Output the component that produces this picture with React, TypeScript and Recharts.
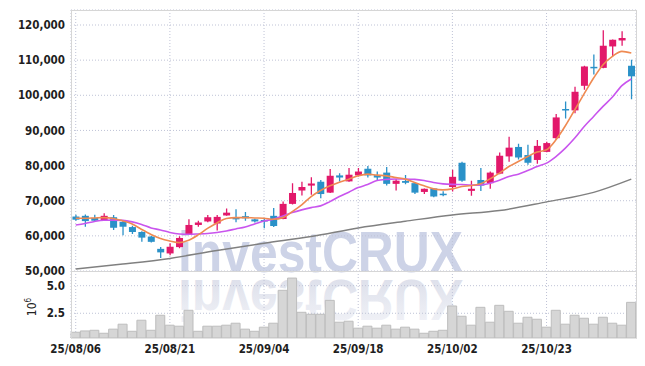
import React from 'react'
import { ComposedChart, Bar, Line, XAxis, YAxis, CartesianGrid } from 'recharts'

const FONT = "'DejaVu Sans Condensed', 'DejaVu Sans', sans-serif"
const UP = '#e2186a'
const DOWN = '#2a91c8'
const GRID = '#bfc3d6'

const dates = [
  '25/08/06', '25/08/07', '25/08/08', '25/08/11', '25/08/12', '25/08/13', '25/08/14', '25/08/18', '25/08/19', '25/08/20',
  '25/08/21', '25/08/22', '25/08/25', '25/08/26', '25/08/27', '25/08/28', '25/08/29', '25/09/01', '25/09/02', '25/09/03',
  '25/09/04', '25/09/05', '25/09/08', '25/09/09', '25/09/10', '25/09/11', '25/09/12', '25/09/15', '25/09/16', '25/09/17',
  '25/09/18', '25/09/19', '25/09/22', '25/09/23', '25/09/24', '25/09/25', '25/09/26', '25/09/29', '25/09/30', '25/10/01',
  '25/10/02', '25/10/10', '25/10/13', '25/10/14', '25/10/15', '25/10/16', '25/10/17', '25/10/20', '25/10/21', '25/10/22',
  '25/10/23', '25/10/24', '25/10/27', '25/10/28', '25/10/29', '25/10/30', '25/10/31', '25/11/03', '25/11/04', '25/11/05',
]
const dateTicks = ['25/08/06', '25/08/21', '25/09/04', '25/09/18', '25/10/02', '25/10/23']

const opens = [
  65500, 65700, 65100, 64500, 65300, 64000, 62500, 61100, 59800, 56300,
  55000, 56800, 60500, 63100, 64100, 63500, 65800, 65200, 65600, 64700,
  64500, 65700, 64800, 69100, 72900, 74300, 75400, 72300, 77200, 75500,
  77200, 79100, 77300, 78000, 74800, 75600, 75000, 72500, 73500, 72000,
  73900, 80800, 72800, 75900, 75000, 77700, 82600, 85300, 83000, 81600,
  83900, 87800, 96100, 95700, 102700, 108100, 107800, 113900, 115600, 108400,
]
const closes = [
  64600, 64200, 64300, 65700, 62300, 62600, 61100, 59500, 58300, 55300,
  56900, 59400, 63100, 63800, 65300, 65400, 66600, 64700, 65000, 64100,
  64200, 62800, 69100, 72200, 73900, 74900, 71900, 77100, 76600, 77400,
  78300, 77200, 76600, 74800, 75700, 75100, 72300, 73400, 71200, 71700,
  76800, 75700, 73400, 74300, 78000, 82800, 85100, 82300, 80800, 85600,
  86400, 93700, 95700, 101000, 108200, 107700, 114100, 115800, 116300, 105400,
]
const highs = [
  66000, 66100, 66000, 66400, 65900, 64200, 62900, 61300, 60000, 56800,
  57900, 59900, 64700, 64300, 65900, 65900, 67800, 67600, 66800, 64900,
  64800, 67900, 69800, 75000, 75400, 76700, 75900, 79000, 77800, 79300,
  79300, 79900, 78300, 79600, 76200, 77300, 75300, 73500, 73500, 72700,
  78800, 81100, 75700, 79300, 78300, 83700, 88200, 86200, 85900, 87300,
  86800, 94700, 98200, 102400, 108400, 111600, 118500, 115900, 118200, 110100,
]
const lows = [
  64300, 62600, 64000, 64300, 61700, 60200, 60500, 58300, 58100, 53700,
  54500, 56500, 60300, 62600, 63900, 61500, 65700, 63900, 64300, 63800,
  62200, 62500, 64700, 68900, 71500, 71700, 70700, 72200, 75500, 75400,
  76900, 76600, 75900, 74300, 72900, 74700, 71900, 71900, 71000, 71300,
  72600, 75400, 71400, 72800, 73400, 77500, 81100, 81700, 80200, 80500,
  83800, 87300, 93400, 94900, 101600, 105900, 107700, 111100, 114100, 98900,
]
// volume in millions of shares
const volumes = [
  0.78, 0.9, 0.96, 0.69, 1.06, 1.51, 0.87, 1.87, 0.96, 2.32,
  1.42, 1.33, 2.77, 0.87, 1.33, 1.33, 1.42, 1.6, 1.06, 0.87,
  1.24, 1.6, 4.58, 5.69, 2.59, 2.41, 2.41, 3.67, 1.69, 1.78,
  1.15, 1.33, 1.15, 1.42, 1.06, 1.24, 1.06, 0.69, 0.87, 0.96,
  3.16, 2.23, 1.42, 3.04, 1.69, 3.22, 2.68, 1.6, 2.14, 1.96,
  1.24, 2.77, 1.51, 2.32, 2.05, 1.51, 2.14, 1.6, 1.42, 3.49,
]
const ma5 = [
  65020, 65020, 65100, 65190, 64960, 64250, 63400, 61830, 60400, 59260,
  58550, 58070, 58750, 60260, 62110, 63680, 64960, 65190, 65190, 65100,
  65020, 64740, 65190, 66900, 68810, 71180, 72890, 74230, 75280, 76140,
  77080, 77560, 77280, 77080, 76590, 76140, 75170, 74230, 73370, 73090,
  73370, 74030, 74310, 74800, 76220, 77850, 79730, 81150, 82580, 83830,
  84490, 87340, 91330, 95890, 100450, 104920, 108710, 111080, 112500, 112050,
]
const ma20 = [
  63110, 63540, 64110, 64450, 64480, 64400, 63970, 63250, 62260, 61690,
  60970, 60550, 60460, 60550, 60690, 60970, 61400, 61970, 62540, 63400,
  64250, 64740, 65680, 66620, 67390, 68040, 68530, 69750, 71180, 72430,
  73740, 74600, 75740, 76080, 76190, 76170, 76080, 75740, 75170, 74800,
  74650, 74600, 74450, 74510, 75000, 75850, 76880, 77560, 78590, 79730,
  80700, 82580, 84970, 87820, 91130, 93980, 96830, 99510, 102730, 104640,
]
const ma120 = [
  50570, null, null, null, null, 51970, null, null, null, null,
  53590, null, null, null, null, 55840, null, null, null, null,
  57900, null, null, null, null, 59800, null, null, null, null,
  62260, null, null, null, null, 64170, null, null, null, null,
  65960, null, null, null, null, 67200, null, null, null, null,
  69670, null, null, null, null, 72370, null, null, null, 76140,
]
const priceTicks = [50000, 60000, 70000, 80000, 90000, 100000, 110000, 120000]
const volumeTicks = [2.5, 5]

const rows = dates.map((date, i) => ({
  date,
  open: opens[i],
  close: closes[i],
  high: highs[i],
  low: lows[i],
  range: [lows[i], highs[i]],
  ma5: ma5[i],
  ma20: ma20[i],
  ma120: ma120[i],
  volume: volumes[i],
}))

function Candle(props: any) {
  const { x, y, width, height, payload } = props
  if (!payload || height == null) return null
  const { open, close, high, low } = payload
  const color = close >= open ? UP : DOWN
  const k = height / (high - low)
  const cx = x + width / 2
  const top = y + (high - Math.max(open, close)) * k
  const h = Math.max(1.5, Math.abs(open - close) * k)
  return (
    <g>
      <line x1={cx} x2={cx} y1={y} y2={y + height} stroke={color} strokeWidth={1.3} />
      <rect x={cx - 3.5} y={top} width={7} height={h} fill={color} />
    </g>
  )
}

const tickStyle = { fill: '#1e1e1e', fontSize: 11.5, fontWeight: 'bold', fontFamily: FONT }

export default function App() {
  return (
    <div style={{ position: 'relative', width: 637, height: 350, background: '#fff' }}>
      <svg width={637} height={350} style={{ position: 'absolute', left: 0, top: 0 }}>
        <defs>
          <linearGradient id="wmFade" x1="0" y1="0" x2="0" y2="1">
            <stop offset="0%" stopColor="#f4f5f9" />
            <stop offset="100%" stopColor="#d9dce8" />
          </linearGradient>
        </defs>
        <text x={170} y={264} fontSize={57} fontWeight="bold" fontFamily="'Liberation Sans', Arial, sans-serif"
          fill="#cdd3e7" textLength={285} lengthAdjust="spacingAndGlyphs">investCRUX</text>
        <text x={170} y={264} fontSize={57} fontWeight="bold" fontFamily="'Liberation Sans', Arial, sans-serif"
          fill="url(#wmFade)" textLength={285} lengthAdjust="spacingAndGlyphs"
          transform="translate(0 536) scale(1 -1)">investCRUX</text>
        <text transform="rotate(-90 28 299)" x={28} y={299} textAnchor="middle" fontSize={12}
          fontFamily={FONT} fill="#222">10<tspan dy={-5} fontSize={8}>6</tspan></text>
      </svg>

      <div style={{ position: 'absolute', left: 0, top: 0 }}>
        <ComposedChart width={630} height={272} data={rows} margin={{ top: 2, right: 2, bottom: 9, left: 0 }}>
          <CartesianGrid stroke={GRID} strokeDasharray="1 2" />
          <XAxis dataKey="date" hide ticks={dateTicks} />
          <YAxis
            width={63}
            domain={[50000, 124270]}
            allowDataOverflow
            ticks={priceTicks}
            interval={0}
            tickFormatter={(v: number) => v.toLocaleString('en-US')}
            tick={tickStyle}
            tickSize={0}
            tickMargin={6}
            axisLine={false}
          />
          <Bar dataKey="range" shape={(p: any) => <Candle {...p} />} isAnimationActive={false} />
          <Line type="monotone" dataKey="ma120" stroke="#808080" strokeWidth={1.5} dot={false} connectNulls isAnimationActive={false} />
          <Line type="monotone" dataKey="ma20" stroke="#c955ee" strokeWidth={1.6} dot={false} isAnimationActive={false} />
          <Line type="monotone" dataKey="ma5" stroke="#ef8a52" strokeWidth={1.6} dot={false} isAnimationActive={false} />
        </ComposedChart>
      </div>

      <div style={{ position: 'absolute', left: 0, top: 263 }}>
        <ComposedChart width={630} height={92} data={rows} margin={{ top: 0, right: 2, bottom: 0, left: 0 }} barCategoryGap={0}>
          <CartesianGrid stroke={GRID} strokeDasharray="1 2" />
          <XAxis
            dataKey="date"
            ticks={dateTicks}
            interval={0}
            height={25}
            tick={tickStyle}
            tickSize={0}
            tickMargin={7}
            axisLine={false}
          />
          <YAxis
            width={63}
            domain={[0.26, 6.33]}
            allowDataOverflow
            ticks={volumeTicks}
            interval={0}
            tickFormatter={(v: number) => v.toFixed(1)}
            tick={tickStyle}
            tickSize={0}
            tickMargin={6}
            axisLine={false}
          />
          <Bar dataKey="volume" fill="#d6d6d6" stroke="#bdbdbd" strokeWidth={1} isAnimationActive={false} />
        </ComposedChart>
      </div>

      <div style={{ position: 'absolute', left: 63, top: 2, width: 566, height: 262, boxSizing: 'border-box', border: '1px solid #d6d6d6', pointerEvents: 'none' }} />
      <div style={{ position: 'absolute', left: 63, top: 263, width: 566, height: 68, boxSizing: 'border-box', borderLeft: '1px solid #d6d6d6', borderRight: '1px solid #d6d6d6', borderBottom: '1px solid #e4e4e4', pointerEvents: 'none' }} />
    </div>
  )
}
